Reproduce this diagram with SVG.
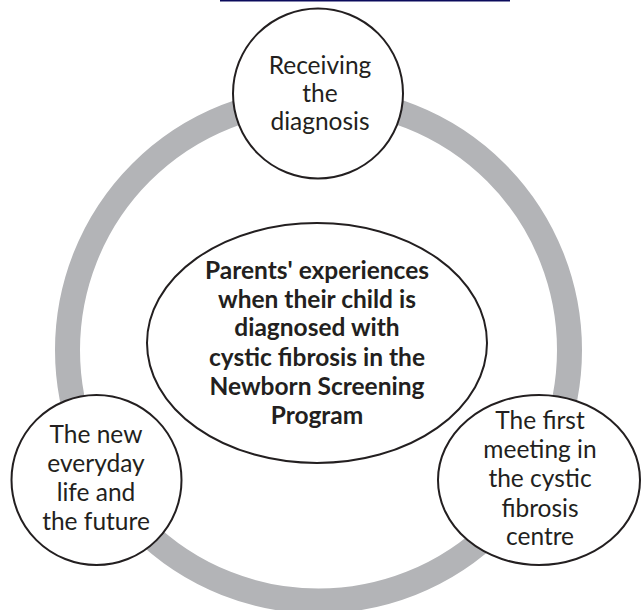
<svg xmlns="http://www.w3.org/2000/svg" width="641" height="610" viewBox="0 0 641 610">
<style>
.node{fill:#ffffff;stroke:#231f20;stroke-width:2}
.t{font-family:Lato,"Open Sans","Liberation Sans",sans-serif;font-size:24.5px;fill:#231f20;text-anchor:middle}
.b{font-family:Lato,"Open Sans","Liberation Sans",sans-serif;font-size:24.5px;font-weight:bold;fill:#231f20;text-anchor:middle}
</style>
<rect x="0" y="0" width="641" height="610" fill="#ffffff"/>
<line x1="220" y1="0.8" x2="510" y2="0.8" stroke="#0b0b5c" stroke-width="1.6"/>
<g id="connectors">
<circle cx="318.5" cy="350" r="251" fill="none" stroke="#b3b4b7" stroke-width="25"/>
</g>
<g id="center">
<ellipse class="node" cx="317" cy="343" rx="170" ry="120"/>
<text class="b" x="317" y="279">Parents' experiences</text>
<text class="b" x="317" y="307.5">when their child is</text>
<text class="b" x="317" y="336">diagnosed with</text>
<text class="b" x="317" y="365.5">cystic fibrosis in the</text>
<text class="b" x="317" y="395">Newborn Screening</text>
<text class="b" x="317" y="424">Program</text>
</g>
<g id="receiving">
<circle class="node" cx="318" cy="93.5" r="85"/>
<text class="t" x="320" y="73.5">Receiving</text>
<text class="t" x="320" y="101.5">the</text>
<text class="t" x="320" y="130">diagnosis</text>
</g>
<g id="first-meeting">
<ellipse class="node" cx="539" cy="480" rx="101" ry="85"/>
<text class="t" x="540" y="429">The first</text>
<text class="t" x="540" y="458">meeting in</text>
<text class="t" x="540" y="486.5">the cystic</text>
<text class="t" x="540" y="516.5">fibrosis</text>
<text class="t" x="540" y="545">centre</text>
</g>
<g id="new-everyday">
<circle class="node" cx="96.5" cy="480" r="85"/>
<text class="t" x="96" y="443">The new</text>
<text class="t" x="96" y="472">everyday</text>
<text class="t" x="96" y="500.5">life and</text>
<text class="t" x="96" y="530">the future</text>
</g>
</svg>
